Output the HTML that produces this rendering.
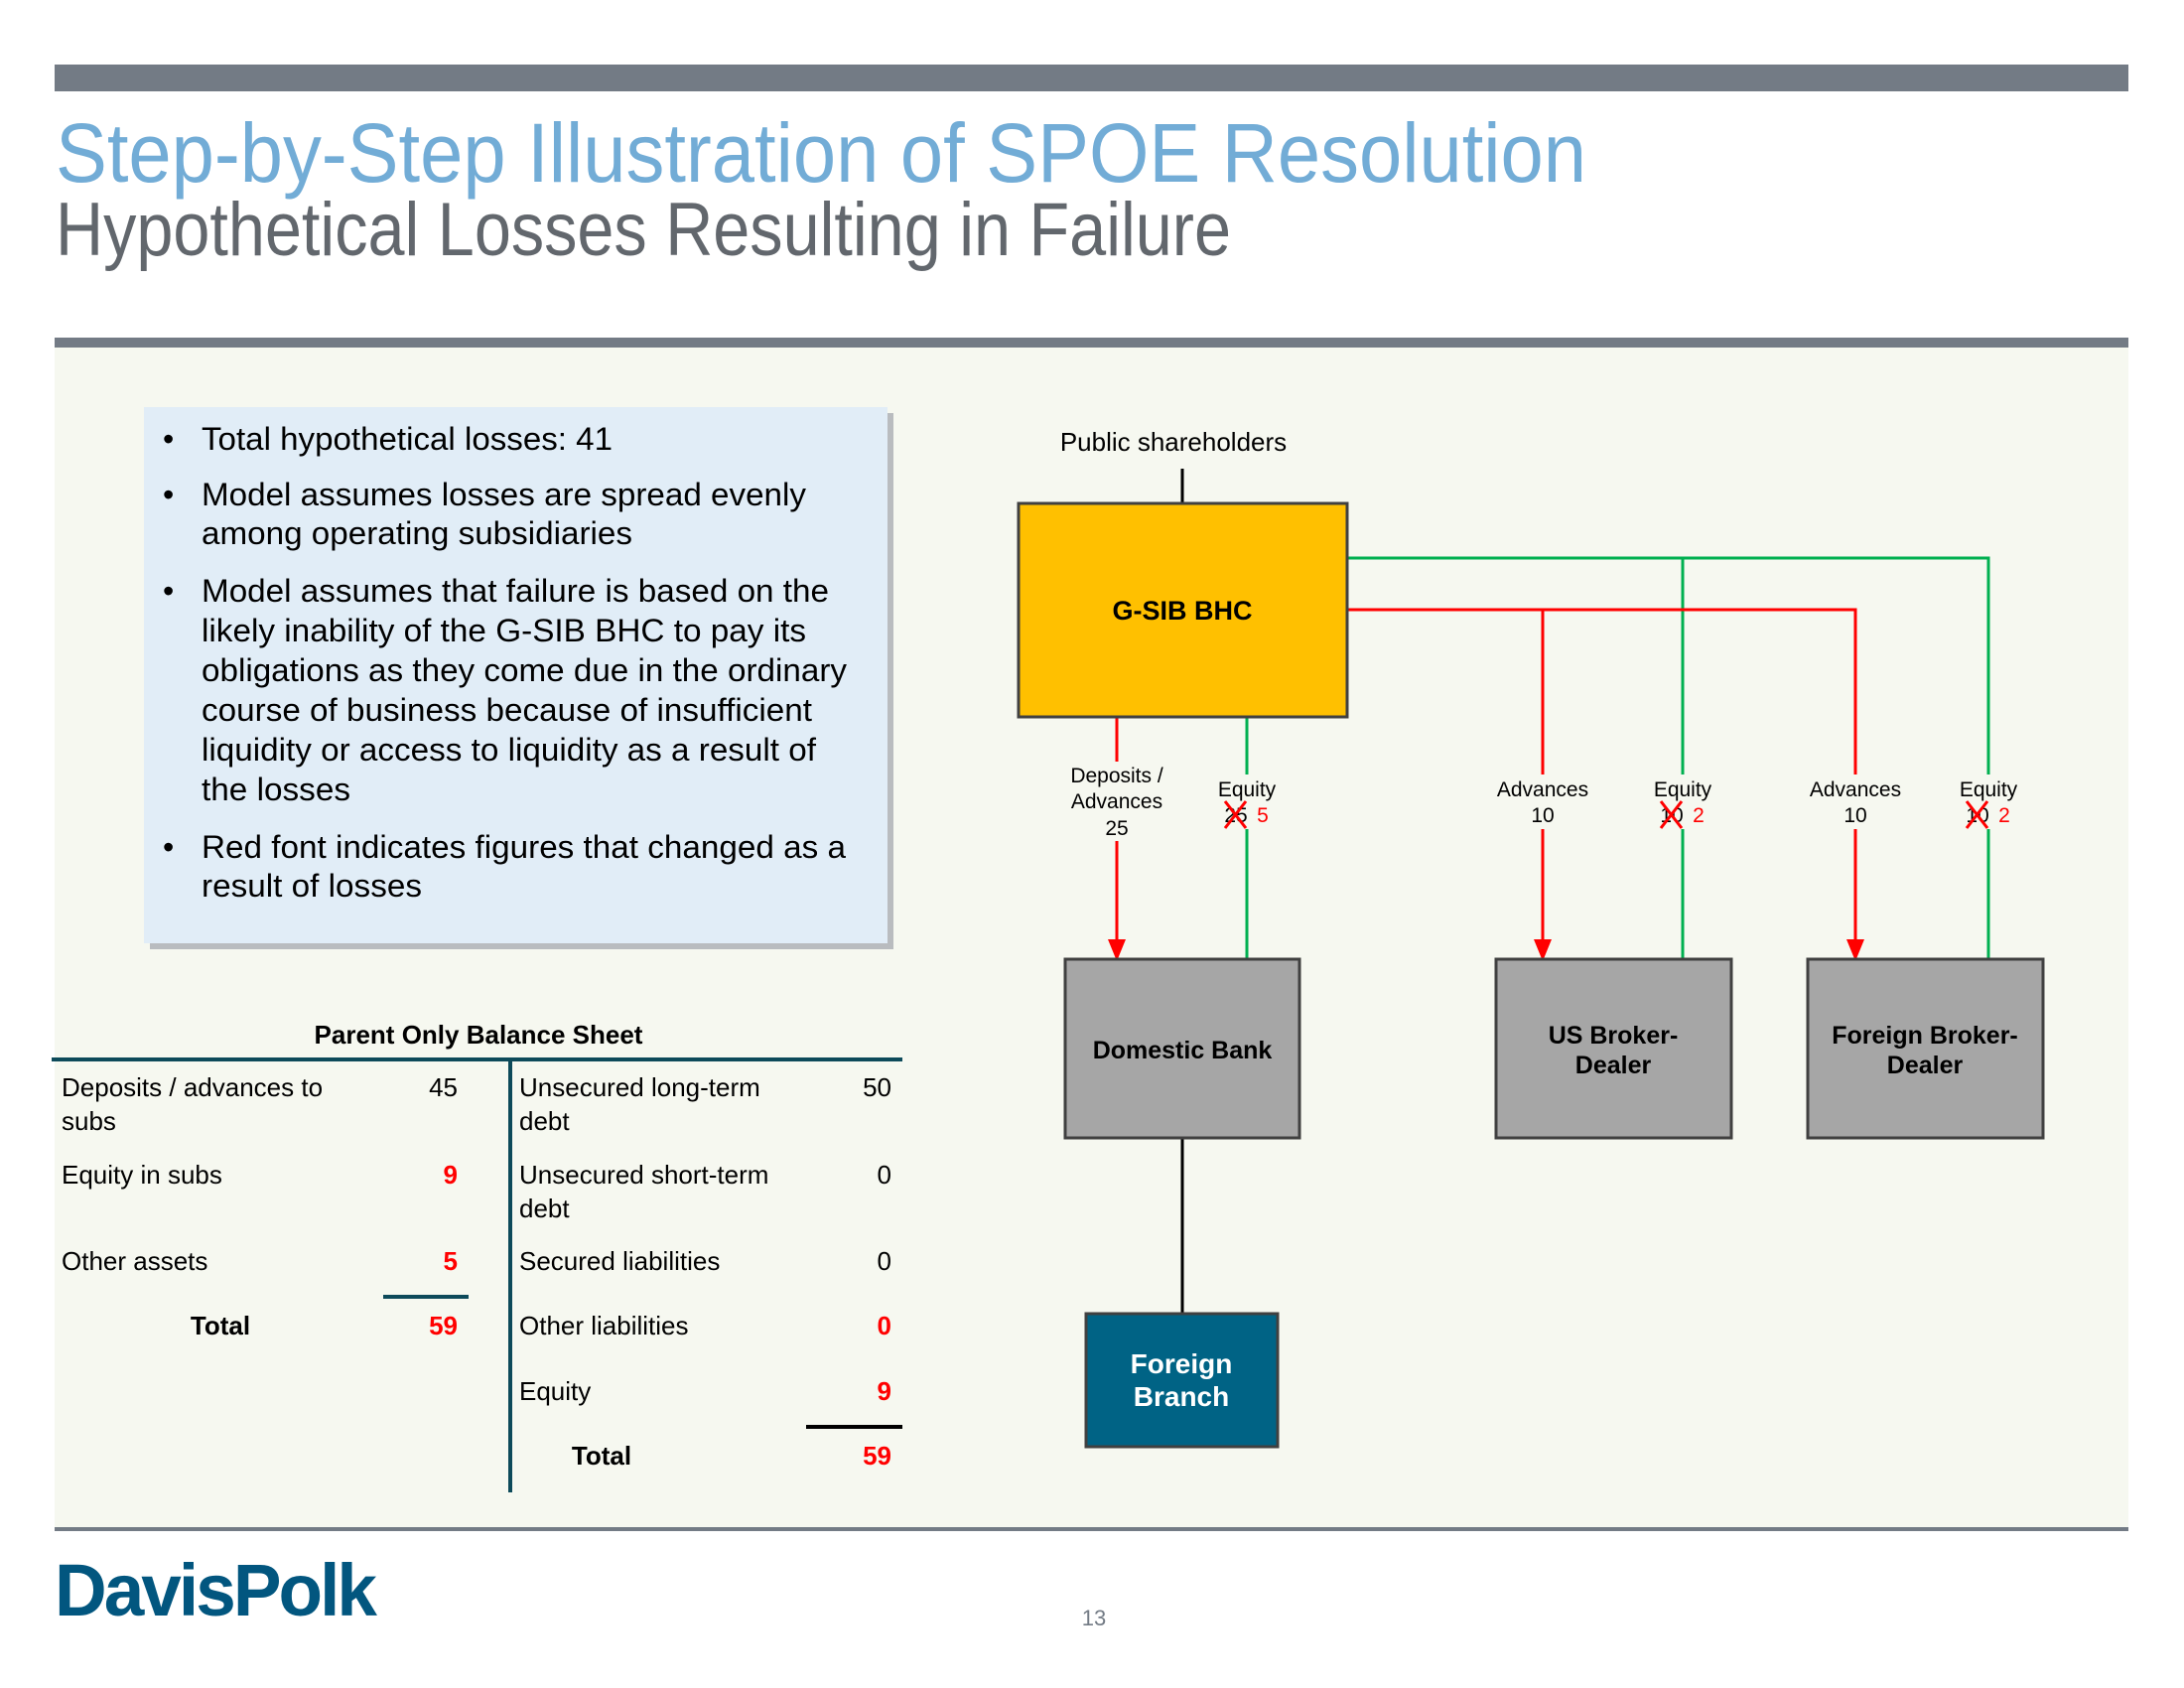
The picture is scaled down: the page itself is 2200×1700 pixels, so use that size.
<!DOCTYPE html>
<html><head><meta charset="utf-8"><style>html,body{margin:0;padding:0;background:#fff}svg{display:block}</style></head>
<body>
<svg width="2200" height="1700" viewBox="0 0 2200 1700" xmlns="http://www.w3.org/2000/svg" font-family="Liberation Sans, Arial, sans-serif">
<rect width="2200" height="1700" fill="#fff"/>
<rect x="55" y="65" width="2089" height="27" fill="#737b85"/>
<text x="56" y="183" font-size="84" fill="#72acd6" textLength="1542" lengthAdjust="spacingAndGlyphs">Step-by-Step Illustration of SPOE Resolution</text>
<text x="56" y="257" font-size="76" fill="#62676d" textLength="1184" lengthAdjust="spacingAndGlyphs">Hypothetical Losses Resulting in Failure</text>
<rect x="55" y="340" width="2089" height="10" fill="#737b85"/>
<rect x="55" y="350" width="2089" height="1188" fill="#f6f8f0"/>
<rect x="55" y="1538" width="2089" height="4" fill="#737b85"/>
<text x="55" y="1627" font-size="74" font-weight="bold" fill="#02567f" textLength="322" lengthAdjust="spacingAndGlyphs" letter-spacing="-3">DavisPolk</text>
<text x="1102" y="1637" font-size="22" fill="#737b85" text-anchor="middle">13</text>

<!-- bullet box -->
<rect x="151" y="416" width="749" height="540" fill="#b9bcbf"/>
<rect x="145" y="410" width="749" height="540" fill="#e1edf7"/>
<g font-size="32" fill="#000">
<text x="164" y="453">•</text><text x="203" y="453" textLength="414" lengthAdjust="spacingAndGlyphs">Total hypothetical losses: 41</text>
<text x="164" y="509">•</text><text x="203" y="509" textLength="609" lengthAdjust="spacingAndGlyphs">Model assumes losses are spread evenly</text>
<text x="203" y="548" textLength="434" lengthAdjust="spacingAndGlyphs">among operating subsidiaries</text>
<text x="164" y="606">•</text><text x="203" y="606" textLength="632" lengthAdjust="spacingAndGlyphs">Model assumes that failure is based on the</text>
<text x="203" y="646" textLength="609" lengthAdjust="spacingAndGlyphs">likely inability of the G-SIB BHC to pay its</text>
<text x="203" y="686" textLength="650" lengthAdjust="spacingAndGlyphs">obligations as they come due in the ordinary</text>
<text x="203" y="726" textLength="615" lengthAdjust="spacingAndGlyphs">course of business because of insufficient</text>
<text x="203" y="766" textLength="619" lengthAdjust="spacingAndGlyphs">liquidity or access to liquidity as a result of</text>
<text x="203" y="806" textLength="150" lengthAdjust="spacingAndGlyphs">the losses</text>
<text x="164" y="864">•</text><text x="203" y="864" textLength="649" lengthAdjust="spacingAndGlyphs">Red font indicates figures that changed as a</text>
<text x="203" y="903" textLength="222" lengthAdjust="spacingAndGlyphs">result of losses</text>
</g>

<!-- balance sheet -->
<g transform="translate(0,-7)">
<text x="482" y="1058" font-size="26" font-weight="bold" text-anchor="middle">Parent Only Balance Sheet</text>
<rect x="52" y="1072" width="857" height="4" fill="#0d4a5a"/>
<rect x="512" y="1074" width="4" height="436" fill="#0d4a5a"/>
<rect x="386" y="1311" width="86" height="4" fill="#0d4a5a"/>
<rect x="812" y="1442" width="97" height="4" fill="#000"/>
<g font-size="26">
<text x="62" y="1111">Deposits / advances to</text><text x="62" y="1145">subs</text>
<text x="461" y="1111" text-anchor="end">45</text>
<text x="62" y="1199">Equity in subs</text><text x="461" y="1199" text-anchor="end" fill="#f00" font-weight="bold">9</text>
<text x="62" y="1286">Other assets</text><text x="461" y="1286" text-anchor="end" fill="#f00" font-weight="bold">5</text>
<text x="222" y="1351" text-anchor="middle" font-weight="bold">Total</text><text x="461" y="1351" text-anchor="end" fill="#f00" font-weight="bold">59</text>
<text x="523" y="1111">Unsecured long-term</text><text x="523" y="1145">debt</text><text x="898" y="1111" text-anchor="end">50</text>
<text x="523" y="1199">Unsecured short-term</text><text x="523" y="1233">debt</text><text x="898" y="1199" text-anchor="end">0</text>
<text x="523" y="1286">Secured liabilities</text><text x="898" y="1286" text-anchor="end">0</text>
<text x="523" y="1351">Other liabilities</text><text x="898" y="1351" text-anchor="end" fill="#f00" font-weight="bold">0</text>
<text x="523" y="1417">Equity</text><text x="898" y="1417" text-anchor="end" fill="#f00" font-weight="bold">9</text>
<text x="606" y="1482" text-anchor="middle" font-weight="bold">Total</text><text x="898" y="1482" text-anchor="end" fill="#f00" font-weight="bold">59</text>
</g>
</g>

<!-- diagram lines -->
<text x="1182" y="454" font-size="26" text-anchor="middle">Public shareholders</text>
<line x1="1191" y1="472" x2="1191" y2="508" stroke="#000" stroke-width="3"/>
<line x1="1191" y1="1146" x2="1191" y2="1324" stroke="#000" stroke-width="3"/>
<g fill="none" stroke-width="3">
<polyline points="1357,562 2003,562 2003,966" stroke="#00b050"/>
<line x1="1695" y1="562" x2="1695" y2="966" stroke="#00b050"/>
<line x1="1256" y1="722" x2="1256" y2="966" stroke="#00b050"/>
<polyline points="1357,614 1869,614 1869,948" stroke="#f00"/>
<line x1="1554" y1="614" x2="1554" y2="948" stroke="#f00"/>
<line x1="1125" y1="722" x2="1125" y2="948" stroke="#f00"/>
</g>
<g fill="#f00">
<polygon points="1116,946 1134,946 1125,968"/>
<polygon points="1545,946 1563,946 1554,968"/>
<polygon points="1860,946 1878,946 1869,968"/>
</g>
<!-- label backgrounds -->
<g fill="#f6f8f0">
<rect x="1070" y="767" width="110" height="80"/>
<rect x="1225" y="780" width="70" height="55"/>
<rect x="1506" y="780" width="96" height="55"/>
<rect x="1661" y="780" width="70" height="55"/>
<rect x="1821" y="780" width="96" height="55"/>
<rect x="1970" y="780" width="70" height="55"/>
</g>
<g font-size="21" text-anchor="middle">
<text x="1125" y="788">Deposits /</text><text x="1125" y="814">Advances</text><text x="1125" y="841">25</text>
<text x="1256" y="802">Equity</text><text x="1245" y="828">25</text><text x="1272" y="828" fill="#f00">5</text>
<text x="1554" y="802">Advances</text><text x="1554" y="828">10</text>
<text x="1695" y="802">Equity</text><text x="1684" y="828">10</text><text x="1711" y="828" fill="#f00">2</text>
<text x="1869" y="802">Advances</text><text x="1869" y="828">10</text>
<text x="2003" y="802">Equity</text><text x="1992" y="828">10</text><text x="2019" y="828" fill="#f00">2</text>
</g>
<g stroke="#f00" stroke-width="3">
<path d="M1234,807 L1255,834 M1255,807 L1234,834"/>
<path d="M1673,807 L1694,834 M1694,807 L1673,834"/>
<path d="M1981,807 L2002,834 M2002,807 L1981,834"/>
</g>

<!-- boxes -->
<rect x="1026" y="507" width="331" height="215" fill="#ffc000" stroke="#404040" stroke-width="3"/>
<text x="1191" y="624" font-size="27" font-weight="bold" text-anchor="middle">G-SIB BHC</text>
<rect x="1073" y="966" width="236" height="180" fill="#a6a6a6" stroke="#404040" stroke-width="3"/>
<text x="1191" y="1066" font-size="25" font-weight="bold" text-anchor="middle">Domestic Bank</text>
<rect x="1507" y="966" width="237" height="180" fill="#a6a6a6" stroke="#404040" stroke-width="3"/>
<text x="1625" y="1051" font-size="25" font-weight="bold" text-anchor="middle">US Broker-</text>
<text x="1625" y="1081" font-size="25" font-weight="bold" text-anchor="middle">Dealer</text>
<rect x="1821" y="966" width="237" height="180" fill="#a6a6a6" stroke="#404040" stroke-width="3"/>
<text x="1939" y="1051" font-size="25" font-weight="bold" text-anchor="middle">Foreign Broker-</text>
<text x="1939" y="1081" font-size="25" font-weight="bold" text-anchor="middle">Dealer</text>
<rect x="1094" y="1323" width="193" height="134" fill="#006385" stroke="#404040" stroke-width="3"/>
<text x="1190" y="1383" font-size="28" font-weight="bold" fill="#fff" text-anchor="middle">Foreign</text>
<text x="1190" y="1416" font-size="28" font-weight="bold" fill="#fff" text-anchor="middle">Branch</text>
</svg>
</body></html>
